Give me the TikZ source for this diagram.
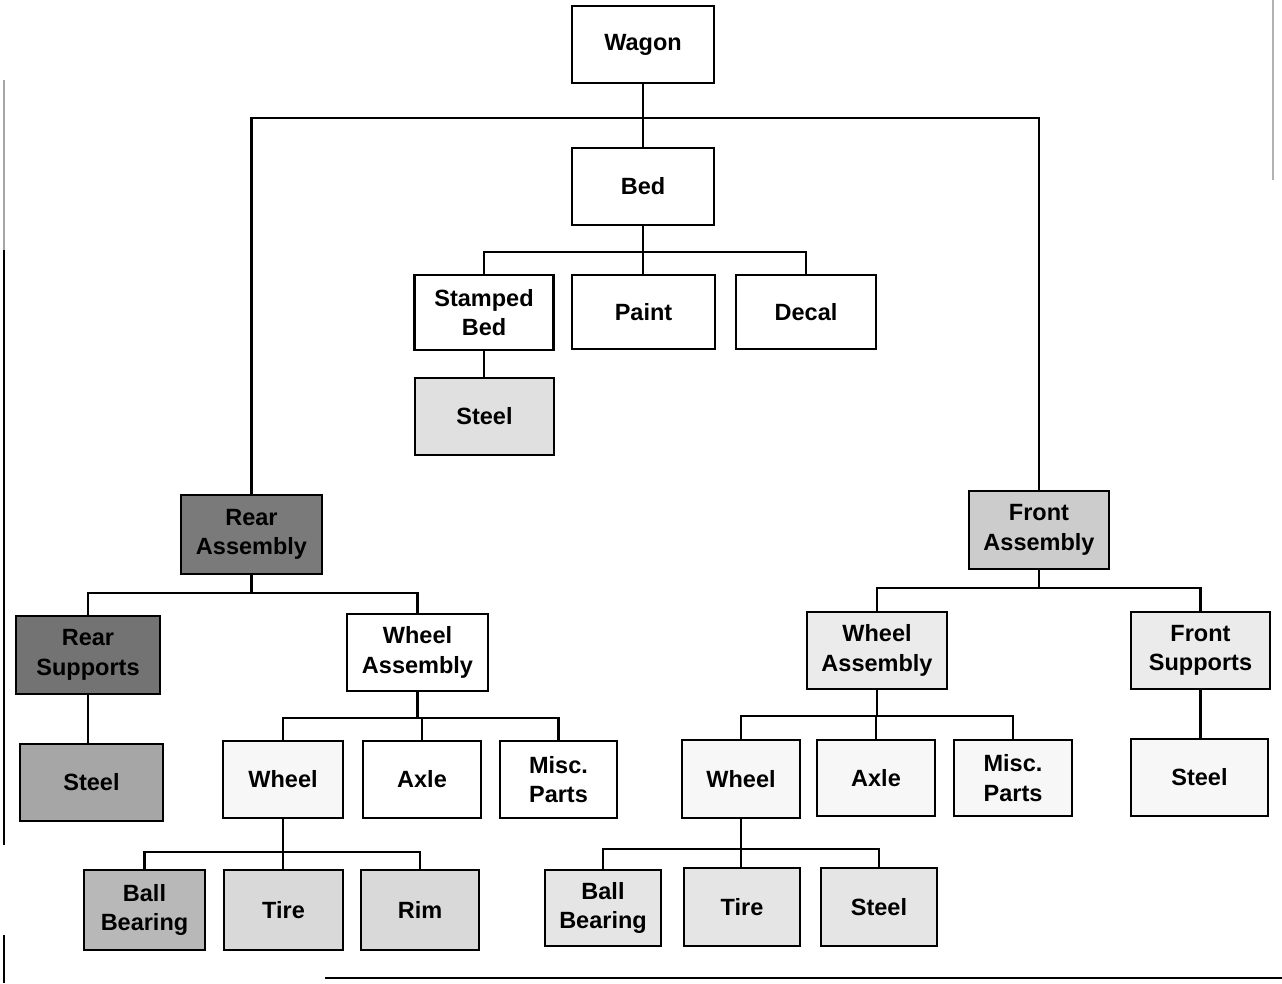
\documentclass[tikz,border=0pt]{standalone}
\usepackage{fontspec}
\setmainfont{Liberation Sans}
\begin{document}
\begin{tikzpicture}[x=1pt,y=-1pt,
  part/.style={draw, line width=2.6pt, align=center, inner sep=0pt,
    font=\bfseries\fontsize{23.5}{29.5}\selectfont},
  link/.style={line width=2.3pt},
  edge/.style={line width=2.6pt}]
\useasboundingbox (0,0) rectangle (1282,983);

% ---- bed branch ----
\node[part, minimum width=142pt, minimum height=77pt] (wagon) at (643,44.5) {Wagon};
\node[part, minimum width=142pt, minimum height=77pt] (bed) at (643,186.5) {Bed};
\node[part, minimum width=139pt, minimum height=75pt] (stamped) at (484,312.5) {Stamped\\Bed};
\node[part, minimum width=143pt, minimum height=74pt] (paint) at (643.5,312) {Paint};
\node[part, minimum width=140pt, minimum height=74pt] (decal) at (806,312) {Decal};
\node[part, fill=black!12, minimum width=139pt, minimum height=77pt] (steelA) at (484.5,416.5) {Steel};

% ---- rear assembly branch ----
\node[part, fill=black!52, minimum width=141pt, minimum height=79pt] (rearAsm) at (251.5,534.5) {Rear\\Assembly};
\node[part, fill=black!55, minimum width=144pt, minimum height=78pt] (rearSup) at (88,655) {Rear\\Supports};
\node[part, minimum width=141pt, minimum height=77pt] (wheelAsmL) at (417.5,652.5) {Wheel\\Assembly};
\node[part, fill=black!35, minimum width=143pt, minimum height=77pt] (steelL) at (91.5,782.5) {Steel};
\node[part, fill=black!3, minimum width=120pt, minimum height=77pt] (wheelL) at (283,779.5) {Wheel};
\node[part, minimum width=118pt, minimum height=77pt] (axleL) at (422,779.5) {Axle};
\node[part, minimum width=117pt, minimum height=77pt] (miscL) at (558.5,779.5) {Misc.\\Parts};
\node[part, fill=black!28, minimum width=121pt, minimum height=80pt] (bbL) at (144.5,910) {Ball\\Bearing};
\node[part, fill=black!15, minimum width=119pt, minimum height=80pt] (tireL) at (283.5,910) {Tire};
\node[part, fill=black!15, minimum width=118pt, minimum height=80pt] (rimL) at (420,910) {Rim};

% ---- front assembly branch ----
\node[part, fill=black!20, minimum width=140pt, minimum height=78pt] (frontAsm) at (1039,530) {Front\\Assembly};
\node[part, fill=black!8, minimum width=140pt, minimum height=77pt] (wheelAsmR) at (877,650.5) {Wheel\\Assembly};
\node[part, fill=black!8, minimum width=139pt, minimum height=77pt] (frontSup) at (1200.5,650.5) {Front\\Supports};
\node[part, fill=black!3, minimum width=137pt, minimum height=77pt] (steelF) at (1199.5,777.5) {Steel};
\node[part, fill=black!3, minimum width=118pt, minimum height=78pt] (wheelR) at (741,779) {Wheel};
\node[part, fill=black!3, minimum width=118pt, minimum height=76pt] (axleR) at (876,778) {Axle};
\node[part, fill=black!3, minimum width=118pt, minimum height=76pt] (miscR) at (1013,778) {Misc.\\Parts};
\node[part, fill=black!10, minimum width=116pt, minimum height=76pt] (bbR) at (603,908) {Ball\\Bearing};
\node[part, fill=black!10, minimum width=116pt, minimum height=78pt] (tireR) at (742,907) {Tire};
\node[part, fill=black!10, minimum width=116pt, minimum height=78pt] (steelR) at (879,907) {Steel};

% ---- bus levels ----
\coordinate (busTop) at (0,118);
\coordinate (busBed) at (0,252);
\coordinate (busRear) at (0,593);
\coordinate (busWheelAsmL) at (0,718);
\coordinate (busWheelL) at (0,852);
\coordinate (busFront) at (0,588);
\coordinate (busWheelAsmR) at (0,716);
\coordinate (busWheelR) at (0,849);

% ---- connectors ----
\draw[link] (wagon.south) -- (wagon.south |- bed.north);
\draw[link] (rearAsm.north) -- (rearAsm.north |- busTop) -- (frontAsm.north |- busTop) -- (frontAsm.north);

\draw[link] (bed.south) -- (bed.south |- paint.north);
\draw[link] (stamped.north) -- (stamped.north |- busBed) -- (decal.north |- busBed) -- (decal.north);
\draw[link] (stamped.south) -- (stamped.south |- steelA.north);

\draw[link] (rearAsm.south) -- (rearAsm.south |- busRear);
\draw[link] (rearSup.north) -- (rearSup.north |- busRear) -- (wheelAsmL.north |- busRear) -- (wheelAsmL.north);
\draw[link] (rearSup.south) -- (rearSup.south |- steelL.north);

\draw[link] (wheelAsmL.south) -- (wheelAsmL.south |- busWheelAsmL);
\draw[link] (wheelL.north) -- (wheelL.north |- busWheelAsmL) -- (miscL.north |- busWheelAsmL) -- (miscL.north);
\draw[link] (axleL.north) -- (axleL.north |- busWheelAsmL);

\draw[link] (wheelL.south) -- (wheelL.south |- tireL.north);
\draw[link] (bbL.north) -- (bbL.north |- busWheelL) -- (rimL.north |- busWheelL) -- (rimL.north);

\draw[link] (frontAsm.south) -- (frontAsm.south |- busFront);
\draw[link] (wheelAsmR.north) -- (wheelAsmR.north |- busFront) -- (frontSup.north |- busFront) -- (frontSup.north);
\draw[link] (frontSup.south) -- (frontSup.south |- steelF.north);

\draw[link] (wheelAsmR.south) -- (wheelAsmR.south |- busWheelAsmR);
\draw[link] (wheelR.north) -- (wheelR.north |- busWheelAsmR) -- (miscR.north |- busWheelAsmR) -- (miscR.north);
\draw[link] (axleR.north) -- (axleR.north |- busWheelAsmR);

\draw[link] (wheelR.south) -- (wheelR.south |- tireR.north);
\draw[link] (bbR.north) -- (bbR.north |- busWheelR) -- (steelR.north |- busWheelR) -- (steelR.north);

% ---- page edges ----
\draw[edge, black!35] (4,80) -- (4,250);
\draw[edge] (4,250) -- (4,845);
\draw[edge] (4,935) -- (4,983);
\draw[edge] (325,978) -- (1282,978);
\draw[line width=1.5pt, black!30] (1273,0) -- (1273,180);
\end{tikzpicture}
\end{document}
